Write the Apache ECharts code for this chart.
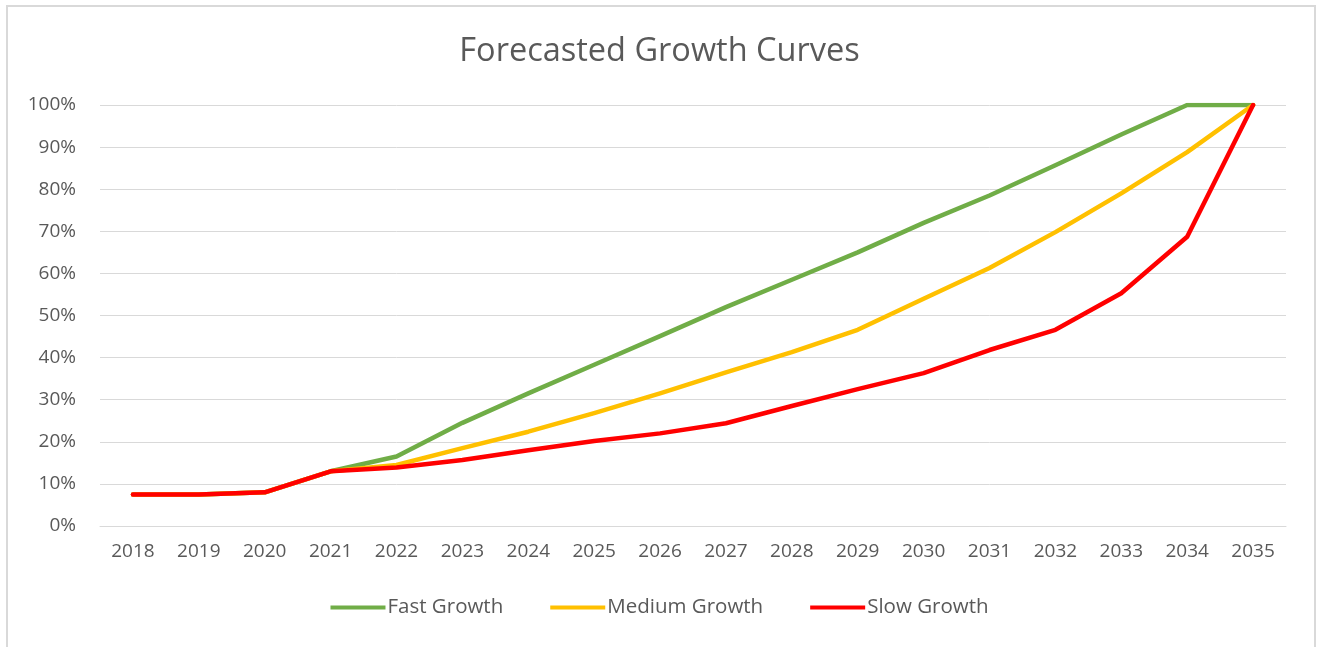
<!DOCTYPE html>
<html>
<head>
<meta charset="utf-8">
<title>Forecasted Growth Curves</title>
<script src="https://cdn.jsdelivr.net/npm/echarts@6/dist/echarts.min.js"></script>
<style>
  html, body { margin: 0; padding: 0; background: #ffffff; }
  #chart { width: 1319px; height: 647px; }
</style>
</head>
<body>
<div id="chart"></div>
<script>
// Years on the category axis
const years = ['2018','2019','2020','2021','2022','2023','2024','2025','2026',
               '2027','2028','2029','2030','2031','2032','2033','2034','2035'];

// Growth scenarios, in percent of the target
const fastGrowth   = [7.5, 7.5, 8, 13, 16.5, 24.5, 31.5, 38.3, 45.1, 52, 58.5, 65, 72, 78.5, 85.7, 93, 100, 100];
const mediumGrowth = [7.5, 7.5, 8, 13, 14.5, 18.5, 22.4, 26.8, 31.5, 36.5, 41.3, 46.6, 54, 61.3, 69.8, 79, 88.8, 100];
const slowGrowth   = [7.5, 7.5, 8, 13, 13.9, 15.7, 18, 20.2, 22, 24.4, 28.5, 32.5, 36.3, 41.8, 46.6, 55.3, 68.7, 100];

const FONT = '"Open Sans", "DejaVu Sans", sans-serif';
const TEXT = '#595959';
const GRID = '#d9d9d9';

const chart = echarts.init(document.getElementById('chart'), null, { renderer: 'canvas' });

function line(name, data, color) {
  return {
    name: name,
    type: 'line',
    data: data,
    symbol: 'none',
    showSymbol: false,
    smooth: false,
    lineStyle: { color: color, width: 4.5, cap: 'round', join: 'round' },
    itemStyle: { color: color },
    emphasis: { disabled: true }
  };
}

chart.setOption({
  animation: false,
  backgroundColor: '#ffffff',
  textStyle: { fontFamily: FONT },
  graphic: [{
    type: 'rect',
    shape: { x: 7, y: 6, width: 1308, height: 660 },
    style: { fill: 'none', stroke: GRID, lineWidth: 2 },
    silent: true
  }],
  title: {
    text: 'Forecasted Growth Curves',
    left: 'center',
    top: 30,
    textStyle: { fontFamily: FONT, fontSize: 32.5, fontWeight: 'normal', color: TEXT }
  },
  legend: {
    bottom: 24,
    left: 'center',
    itemWidth: 55,
    itemHeight: 4,
    itemGap: 47,
    icon: 'rect',
    textStyle: { fontFamily: FONT, fontSize: 20.5, color: TEXT, padding: [0, 0, 0, -3] },
    data: ['Fast Growth', 'Medium Growth', 'Slow Growth']
  },
  grid: { left: 100, right: 33, top: 105, bottom: 121, containLabel: false },
  xAxis: {
    type: 'category',
    data: years,
    boundaryGap: true,
    axisLine: { show: true, lineStyle: { color: GRID, width: 1 } },
    axisTick: { show: false },
    axisLabel: { margin: 16, fontFamily: FONT, fontSize: 19, color: TEXT, interval: 0 }
  },
  yAxis: {
    type: 'value',
    min: 0,
    max: 100,
    interval: 10,
    axisLine: { show: false },
    axisTick: { show: false },
    splitLine: { lineStyle: { color: GRID, width: 1 } },
    axisLabel: { margin: 24, fontFamily: FONT, fontSize: 19, color: TEXT, formatter: '{value}%' }
  },
  series: [
    line('Fast Growth', fastGrowth, '#70AD47'),
    line('Medium Growth', mediumGrowth, '#FFC000'),
    line('Slow Growth', slowGrowth, '#FF0000')
  ]
});
</script>
</body>
</html>
